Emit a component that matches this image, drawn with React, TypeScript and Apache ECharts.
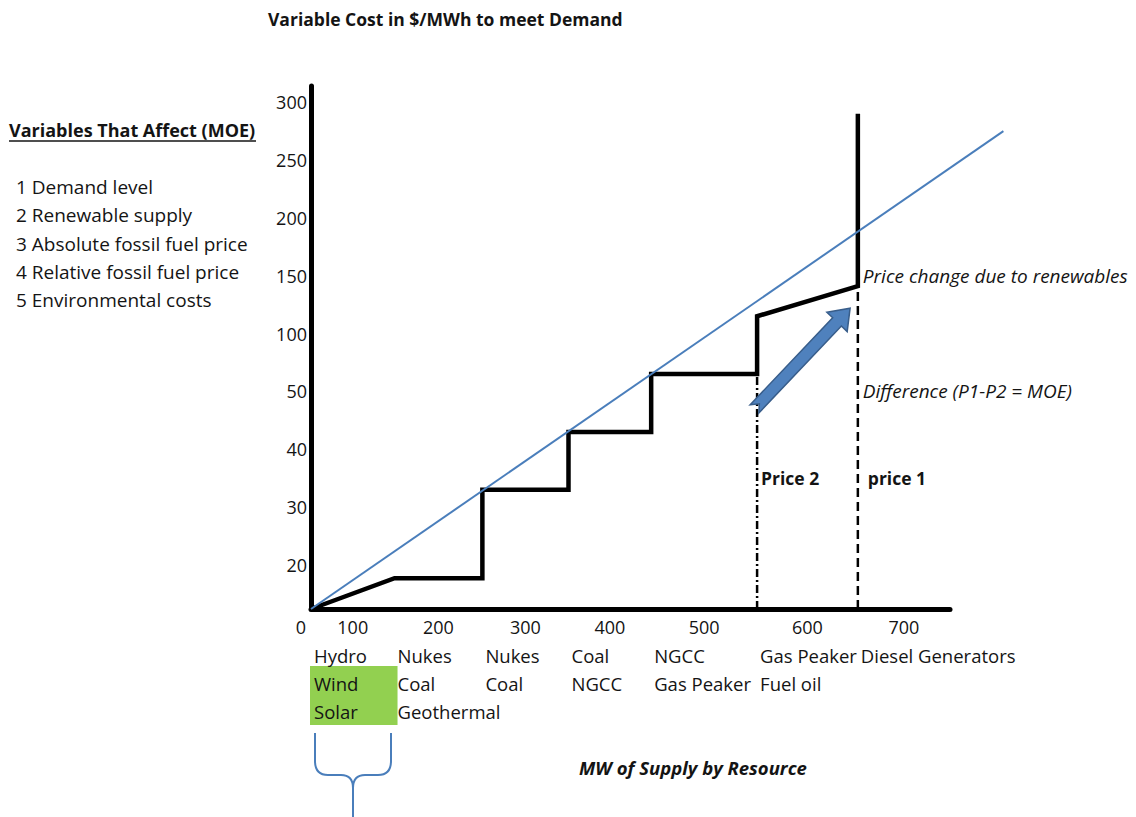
import React, { useEffect, useRef } from "react";
import * as echarts from "echarts";

// $/MWh values printed on the cost axis (evenly spaced, not proportional)
const priceTicks = [20, 30, 40, 50, 100, 150, 200, 250, 300];

// Supply stack: cumulative MW where each resource block starts, plus the axis end
const blockEdgesMW = [0, 97, 199, 299, 395, 518, 635, 742];
const blockLabels = ["100", "200", "300", "400", "500", "600", "700"];
const resourcesRow1 = ["Hydro", "Nukes", "Nukes", "Coal", "NGCC", "Gas Peaker", "Diesel Generators"];
const resourcesRow2 = ["Wind", "Coal", "Coal", "NGCC", "Gas Peaker", "Fuel oil", ""];
const resourcesRow3 = ["Solar", "Geothermal", "", "", "", "", ""];

// Merit-order supply curve (MW, $/MWh)
const supplyMW = [0, 97, 199, 199, 299, 299, 395, 395, 518, 518, 635, 635];
const supplyPrice = [0, 14, 14, 33, 33, 43, 43, 65, 65, 115, 141, 290];

// Demand line (runs past the end of the MW axis)
const demandMW = [0, 804];
const demandPrice = [0, 275];

// Clearing points with renewables (price 2) and without (price 1)
const price2MW = 518;
const price2 = 65;
const price1MW = 635;
const price1 = 141;

// Arrow for the price shift, tail then head
const shiftArrowMW = [515, 626];
const shiftArrowPrice = [47, 122];

const moeHeading = "Variables That Affect (MOE)";
const moeVariables = [
  "1 Demand level",
  "2 Renewable supply",
  "3 Absolute fossil fuel price",
  "4 Relative fossil fuel price",
  "5 Environmental costs",
];

const FONT = "'Open Sans', 'Noto Sans', sans-serif";
const INK = "#141414";
const BLUE = "#4a7ebb";

// Cost axis scale: $0 sits on the axis line, each printed tick is one step apart
const FIRST_TICK_GAP = 0.76;
const priceKnots = [0, ...priceTicks];
const posKnots = priceKnots.map((_, i) => (i === 0 ? 0 : FIRST_TICK_GAP + i - 1));
const POS_MAX = posKnots[posKnots.length - 1] + 0.28;

function toPos(p: number): number {
  for (let i = 1; i < priceKnots.length; i++) {
    if (p <= priceKnots[i] || i === priceKnots.length - 1) {
      const t = (p - priceKnots[i - 1]) / (priceKnots[i] - priceKnots[i - 1]);
      return posKnots[i - 1] + t * (posKnots[i] - posKnots[i - 1]);
    }
  }
  return 0;
}

// Plot frame in page pixels
const PLOT_LEFT = 311;
const PLOT_RIGHT = 950;
const PLOT_TOP = 86;
const PLOT_BOTTOM = 609;
const PAGE_W = 1136;
const PAGE_H = 817;
const MW_MAX = blockEdgesMW[blockEdgesMW.length - 1];
const PX_PER_MW = (PLOT_RIGHT - PLOT_LEFT) / MW_MAX;
// Wider twin frame with the same MW scale, so the demand line can run past the axis end
const DEMAND_MW_MAX = Math.max(...demandMW);
const DEMAND_RIGHT = PLOT_LEFT + DEMAND_MW_MAX * PX_PER_MW;

echarts.graphic.registerShape(
  "brace",
  echarts.graphic.extendPath(
    "M0 0 L0 28 Q0 42 13 42 L26 42 Q38 42 38 55 L38 84 M76 0 L76 28 Q76 42 63 42 L50 42 Q38 42 38 55",
    {}
  ) as any
);

export default function App() {
  const ref = useRef<HTMLDivElement>(null);

  useEffect(() => {
    document.body.style.margin = "0";
    const chart = echarts.init(ref.current!, null, { renderer: "svg" });

    const supplyData = supplyMW.map((mw, i) => [mw, toPos(supplyPrice[i])]);
    const demandData = demandMW.map((mw, i) => [mw, toPos(demandPrice[i])]);

    const hiddenAxis = {
      axisLine: { show: false },
      axisTick: { show: false },
      axisLabel: { show: false },
      splitLine: { show: false },
    };

    chart.setOption({
      animation: false,
      backgroundColor: "#ffffff",
      title: {
        text: "Variable Cost in $/MWh to meet Demand",
        left: 263,
        top: 5,
        textStyle: { fontFamily: FONT, fontWeight: "bold", fontSize: 17.5, color: INK },
      },
      grid: [
        {
          left: PLOT_LEFT,
          right: PAGE_W - PLOT_RIGHT,
          top: PLOT_TOP,
          bottom: PAGE_H - PLOT_BOTTOM,
          containLabel: false,
          outerBoundsMode: "none",
        },
        {
          left: PLOT_LEFT,
          right: PAGE_W - DEMAND_RIGHT,
          top: PLOT_TOP,
          bottom: PAGE_H - PLOT_BOTTOM,
          containLabel: false,
          outerBoundsMode: "none",
        },
      ],
      xAxis: [
        {
          type: "value",
          gridIndex: 0,
          min: 0,
          max: MW_MAX,
          axisLine: { show: true, onZero: false, lineStyle: { color: "#000", width: 5 } },
          axisTick: { show: false },
          axisLabel: { show: false },
          splitLine: { show: false },
        },
        { type: "value", gridIndex: 1, min: 0, max: DEMAND_MW_MAX, ...hiddenAxis },
      ],
      yAxis: [
        {
          type: "value",
          gridIndex: 0,
          min: 0,
          max: POS_MAX,
          axisLine: { show: true, onZero: false, lineStyle: { color: "#000", width: 5 } },
          axisTick: { show: false },
          splitLine: { show: false },
          axisLabel: {
            customValues: posKnots.slice(1),
            margin: 4,
            fontFamily: FONT,
            fontSize: 18,
            color: INK,
            formatter: (v: number) => {
              const idx = Math.round(v - FIRST_TICK_GAP);
              return idx >= 0 && idx < priceTicks.length ? String(priceTicks[idx]) : "";
            },
          },
        },
        { type: "value", gridIndex: 1, min: 0, max: POS_MAX, ...hiddenAxis },
      ],
      series: [
        {
          type: "line",
          name: "price 2",
          data: [
            [price2MW, 0],
            [price2MW, toPos(price2)],
          ],
          symbol: "none",
          lineStyle: { color: "#000", width: 2.5, type: [8, 3, 2, 3] },
          z: 2,
        },
        {
          type: "line",
          name: "price 1",
          data: [
            [price1MW, 0],
            [price1MW, toPos(price1)],
          ],
          symbol: "none",
          lineStyle: { color: "#000", width: 2.5, type: [9, 5] },
          z: 2,
        },
        {
          type: "line",
          name: "Supply",
          data: supplyData,
          symbol: "none",
          lineStyle: { color: "#000", width: 4.5, join: "miter" },
          z: 3,
        },
        {
          type: "line",
          name: "Demand",
          xAxisIndex: 1,
          yAxisIndex: 1,
          data: demandData,
          symbol: "none",
          clip: false,
          lineStyle: { color: BLUE, width: 2 },
          z: 4,
        },
      ],
    });

    const px = (mw: number, price: number) =>
      chart.convertToPixel({ gridIndex: 0 }, [mw, toPos(price)]) as number[];

    const [originX, axisY] = px(0, 0);
    const edgePx = blockEdgesMW.map((mw) => px(mw, 0)[0]);

    const text = (
      x: number,
      y: number,
      s: string,
      opts: { align?: string; weight?: string; style?: string; size?: number } = {}
    ) => ({
      type: "text",
      z: 10,
      style: {
        x,
        y,
        text: s,
        fill: INK,
        textAlign: opts.align || "left",
        textVerticalAlign: "middle",
        font: `${opts.style || "normal"} ${opts.weight || "normal"} ${opts.size || 19}px ${FONT}`,
      },
    });

    const graphics: any[] = [];

    // Left panel: what moves the merit-order effect
    graphics.push(text(9, 130, moeHeading, { weight: "bold", size: 18 }));
    graphics.push({
      type: "line",
      shape: { x1: 9, y1: 141, x2: 256, y2: 141 },
      style: { stroke: INK, lineWidth: 1.5 },
    });
    const listY = [187, 215, 244, 272, 300];
    moeVariables.forEach((s, i) => graphics.push(text(16, listY[i], s)));

    // Renewable block highlight
    graphics.push({
      type: "rect",
      z: 1,
      shape: { x: edgePx[0] - 1, y: axisY + 57, width: edgePx[1] - edgePx[0] + 4, height: 59 },
      style: { fill: "#92d050" },
    });

    // Capacity row and resource names under each block
    graphics.push(text(originX - 10, axisY + 18, "0", { align: "center", size: 18 }));
    blockLabels.forEach((s, i) => {
      const cx = (edgePx[i] + edgePx[i + 1]) / 2;
      graphics.push(text(cx, axisY + 18, s, { align: "center", size: 18 }));
    });
    [resourcesRow1, resourcesRow2, resourcesRow3].forEach((row, r) => {
      row.forEach((s, i) => {
        if (s) graphics.push(text(edgePx[i] + 3, axisY + 46 + r * 28, s, { size: 18.5 }));
      });
    });

    // Brace under the renewable block
    graphics.push({
      type: "brace",
      x: edgePx[0] + 4,
      y: axisY + 124,
      z: 5,
      style: { fill: "none", stroke: BLUE, lineWidth: 2 },
    });

    graphics.push(
      text(693, 767, "MW of Supply by Resource", { align: "center", weight: "bold", style: "italic", size: 18.5 })
    );

    // Annotations beside the clearing prices
    const p1Top = px(price1MW, 150);
    graphics.push(text(p1Top[0] + 5, p1Top[1], "Price change due to renewables", { style: "italic", size: 19 }));
    const diff = px(price1MW, 50);
    graphics.push(text(diff[0] + 5, diff[1], "Difference (P1-P2 = MOE)", { style: "italic", size: 19 }));
    const lab2 = px(price2MW, 35);
    graphics.push(text(lab2[0] + 4, lab2[1], "Price 2", { weight: "bold", size: 17.5 }));
    const lab1 = px(price1MW, 35);
    graphics.push(text(lab1[0] + 10, lab1[1], "price 1", { weight: "bold", size: 17.5 }));

    // Shift arrow from price 2 toward price 1
    const T = px(shiftArrowMW[0], shiftArrowPrice[0]);
    const H = px(shiftArrowMW[1], shiftArrowPrice[1]);
    const dx = H[0] - T[0];
    const dy = H[1] - T[1];
    const len = Math.hypot(dx, dy);
    const u = [dx / len, dy / len];
    const n = [-u[1], u[0]];
    const headLen = 19;
    const headHalf = 14;
    const shaftHalf = 6;
    const notch = 7;
    const B = [H[0] - u[0] * headLen, H[1] - u[1] * headLen];
    const pt = (p: number[], k: number) => [p[0] + n[0] * k, p[1] + n[1] * k];
    graphics.push({
      type: "polygon",
      z: 6,
      shape: {
        points: [
          pt(T, shaftHalf),
          pt(B, shaftHalf),
          pt(B, headHalf),
          H,
          pt(B, -headHalf),
          pt(B, -shaftHalf),
          pt(T, -shaftHalf),
          [T[0] + u[0] * notch, T[1] + u[1] * notch],
        ],
      },
      style: { fill: "#4f81bd", stroke: "#385d8a", lineWidth: 1.5 },
    });

    chart.setOption({ graphic: graphics });

    return () => chart.dispose();
  }, []);

  return <div ref={ref} style={{ width: PAGE_W, height: PAGE_H }} />;
}
